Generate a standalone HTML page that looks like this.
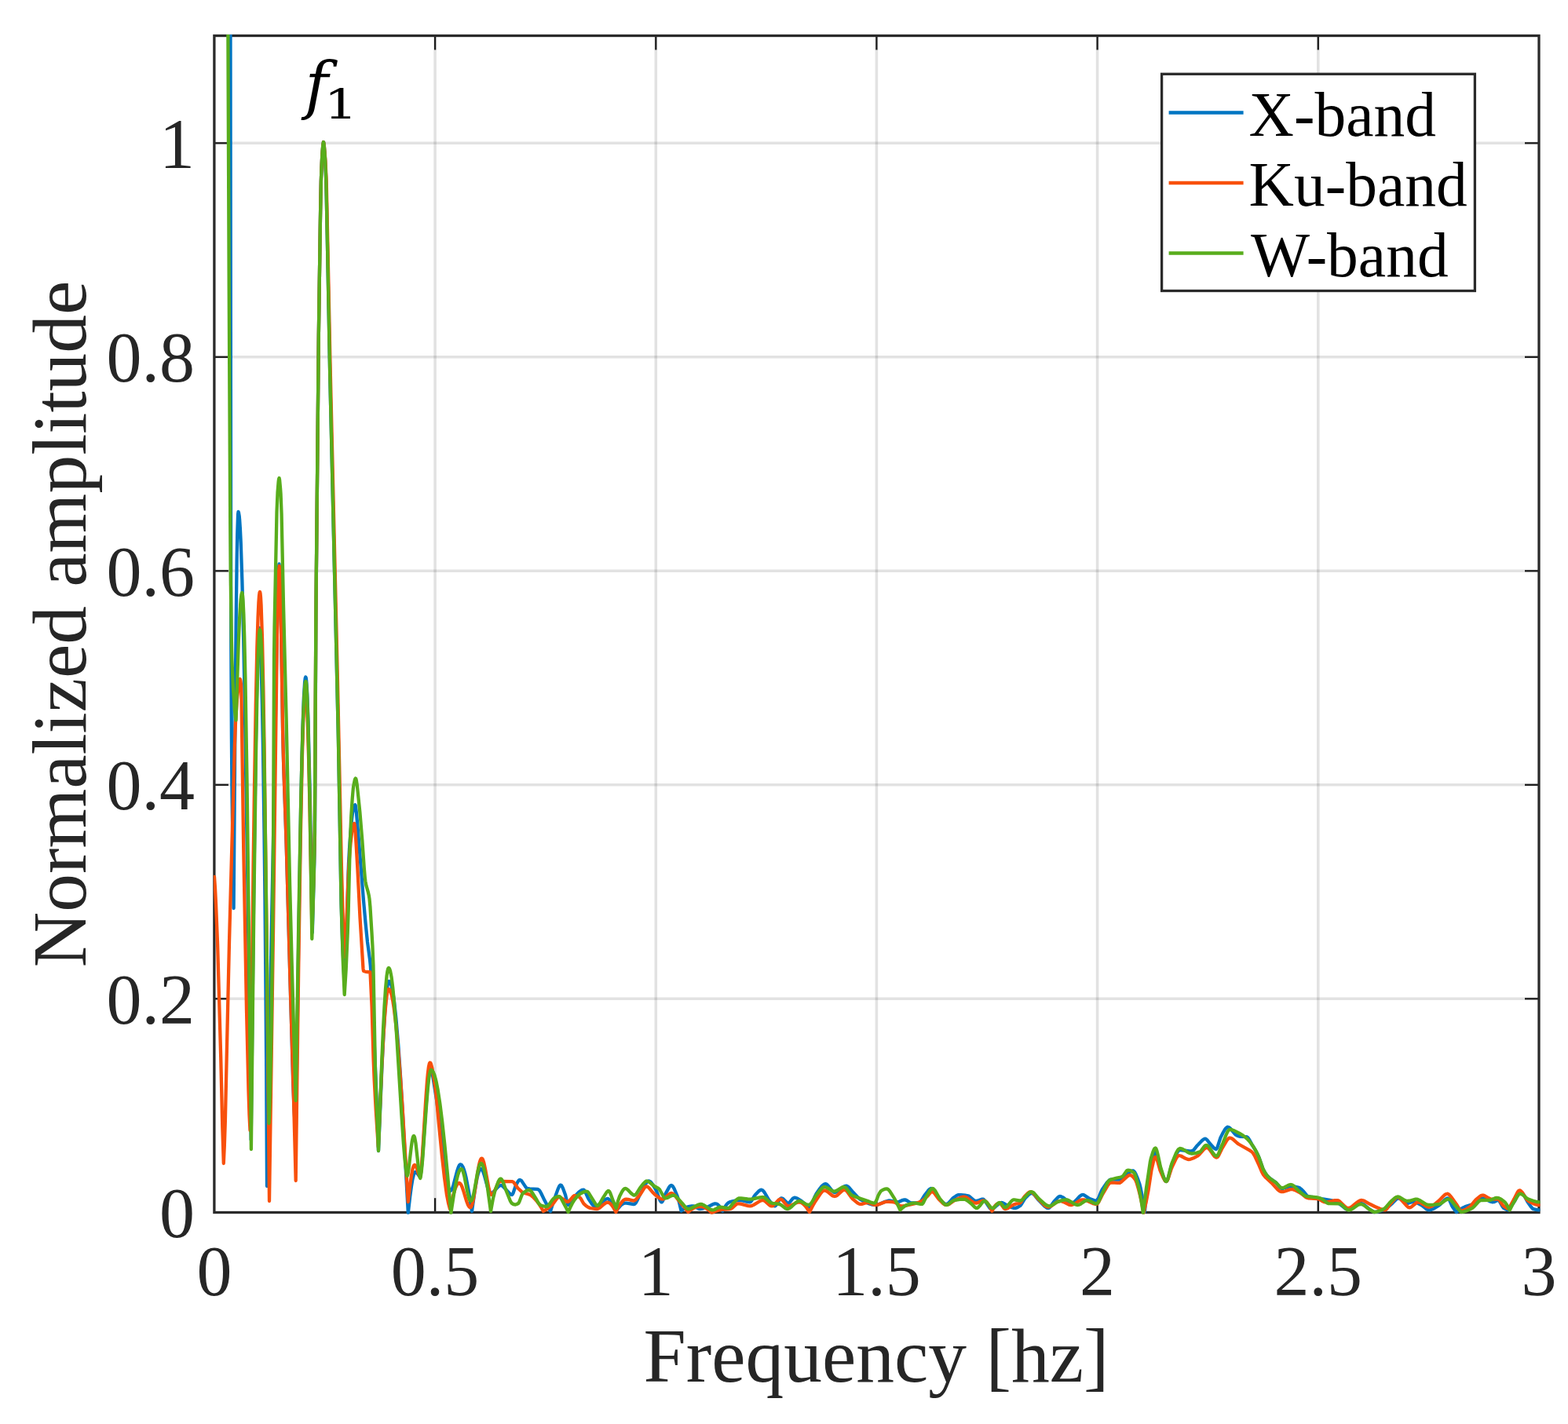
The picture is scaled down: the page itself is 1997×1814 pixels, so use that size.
<!DOCTYPE html>
<html lang="en"><head><meta charset="utf-8"><title>Normalized amplitude vs Frequency</title>
<style>
html,body{margin:0;padding:0;background:#fff;}
body{width:1997px;height:1814px;overflow:hidden;}
svg{display:block;}
text{font-family:"Liberation Serif","DejaVu Serif",serif;fill:#262626;}
.tk{font-size:90px;}
.lb{font-size:97.5px;}
.lg{font-size:79.5px;fill:#000;}
text.an{font-family:"DejaVu Serif","Liberation Serif",serif;fill:#000;}
</style></head><body>
<svg width="1997" height="1814" viewBox="0 0 1997 1814">
<rect x="0" y="0" width="1997" height="1814" fill="#fff"/>
<g stroke="#000" stroke-opacity="0.115" stroke-width="3.6" fill="none"><line x1="554.1" y1="45.5" x2="554.1" y2="1544.2"/><line x1="835.3" y1="45.5" x2="835.3" y2="1544.2"/><line x1="1116.4" y1="45.5" x2="1116.4" y2="1544.2"/><line x1="1397.6" y1="45.5" x2="1397.6" y2="1544.2"/><line x1="1678.8" y1="45.5" x2="1678.8" y2="1544.2"/><line x1="272.9" y1="1272.3" x2="1960.0" y2="1272.3"/><line x1="272.9" y1="999.8" x2="1960.0" y2="999.8"/><line x1="272.9" y1="727.3" x2="1960.0" y2="727.3"/><line x1="272.9" y1="454.8" x2="1960.0" y2="454.8"/><line x1="272.9" y1="182.3" x2="1960.0" y2="182.3"/></g>
<g stroke="#1c1c1c" stroke-width="2.3" fill="none"><line x1="554.1" y1="1544.2" x2="554.1" y2="1526.2"/><line x1="554.1" y1="45.5" x2="554.1" y2="63.5"/><line x1="835.3" y1="1544.2" x2="835.3" y2="1526.2"/><line x1="835.3" y1="45.5" x2="835.3" y2="63.5"/><line x1="1116.4" y1="1544.2" x2="1116.4" y2="1526.2"/><line x1="1116.4" y1="45.5" x2="1116.4" y2="63.5"/><line x1="1397.6" y1="1544.2" x2="1397.6" y2="1526.2"/><line x1="1397.6" y1="45.5" x2="1397.6" y2="63.5"/><line x1="1678.8" y1="1544.2" x2="1678.8" y2="1526.2"/><line x1="1678.8" y1="45.5" x2="1678.8" y2="63.5"/><line x1="272.9" y1="1272.3" x2="290.9" y2="1272.3"/><line x1="1960.0" y1="1272.3" x2="1942.0" y2="1272.3"/><line x1="272.9" y1="999.8" x2="290.9" y2="999.8"/><line x1="1960.0" y1="999.8" x2="1942.0" y2="999.8"/><line x1="272.9" y1="727.3" x2="290.9" y2="727.3"/><line x1="1960.0" y1="727.3" x2="1942.0" y2="727.3"/><line x1="272.9" y1="454.8" x2="290.9" y2="454.8"/><line x1="1960.0" y1="454.8" x2="1942.0" y2="454.8"/><line x1="272.9" y1="182.3" x2="290.9" y2="182.3"/><line x1="1960.0" y1="182.3" x2="1942.0" y2="182.3"/></g>
<rect x="272.9" y="45.5" width="1687.1" height="1499.0" fill="none" stroke="#2a2a2a" stroke-width="3.3"/>
<clipPath id="cp"><rect x="271.9" y="44.0" width="1689.6" height="1502.7"/></clipPath>
<g clip-path="url(#cp)" fill="none" stroke-width="4.3" stroke-linejoin="round" stroke-linecap="round">
<path stroke="#0075c2" d="M292.7,-300 293.24,-120.8 293.5,45 294.1,740 294.33,826.2 294.88,936.8 295.42,1001.8 296.51,1088.3 297.6,1157 299.71,888.3 300.61,793.9 301.62,714 302.24,680.3 303.08,655.2 303.5,652 303.9,652.6 304.63,656.8 305.13,662 305.93,674.1 306.74,691.2 308.36,739.2 309.98,804.8 311.6,886.3 315.18,1112.5 319.7,1452 323.25,1132.6 325.79,950.5 326.97,887.4 328.33,834.7 328.99,817.6 329.79,804.4 330.36,800.5 330.6,800 330.87,801.1 331.37,808.3 331.88,821.1 333.91,896.9 334.93,950.2 336.45,1055.9 337.46,1146 338.48,1261.3 339.2,1360 340,1511 343.02,1331.3 350.05,964.2 352.57,814.1 354.58,733.5 355.08,721.9 355.5,718.5 356.09,724.8 356.59,738 357.6,775 360.11,930.7 361.12,971.7 364.63,1074.5 373.18,1378.4 374.69,1415.3 376.7,1450 380.36,1191.3 383.2,1024.2 384.42,967.8 385.74,919.3 386.86,889.4 388.08,869.3 388.76,863.8 389.26,862.5 389.76,863.6 390.26,867.6 391.32,885 392.54,919.1 394.79,1015.9 397.8,1188 400.31,1098.2 401,1060 402.4,780 405.84,426.8 408.1,269 408.85,231.5 409.36,216.7 410.36,196.5 411.37,184.2 412,181 412.37,182.2 412.87,186.8 413.88,199.8 415.39,232.7 420.41,486.8 430.96,943.3 434.48,1147.1 435.99,1195.9 438.5,1250 440.5,1210.2 442.2,1160 443.5,1113.8 444,1100 445,1081.3 446.5,1060.7 448,1044.3 449,1035.8 449.5,1033 451,1027.3 452,1025.3 452.3,1025.2 452.5,1025.4 453,1027.3 454,1036 457,1071.5 463,1147.2 465.5,1175.3 468,1200 471,1222.2 471.8,1230 472.5,1239.7 476.5,1323.5 479.5,1398.1 482,1466 486.54,1357.2 488.55,1316.9 490.18,1290.1 491.82,1269.5 492.64,1261.9 493.59,1255.3 494.27,1252.2 495.09,1250.2 495.5,1250 496.11,1250.2 497.12,1251.6 498.33,1254.9 499.55,1260.1 500.76,1266.9 501.98,1275.5 504.41,1297.6 507.2,1330.4 509.72,1366.1 512.51,1411.1 519.8,1545 522.2,1524.3 523.81,1512.1 525.4,1502.5 527,1496 528.2,1493.5 528.82,1493 529.4,1493.1 530.83,1494 533.8,1498.1 535,1499 535.41,1498 535.84,1495.7 537.05,1485.4 538.27,1470.9 542.36,1411.5 544.41,1385.5 545.36,1376.2 546.45,1368.1 547.37,1363.9 547.87,1362.6 548.5,1362 548.87,1362.2 549.37,1363.1 550.88,1369 555.89,1400 558.4,1418.7 561.4,1443.5 565.91,1487.8 567.92,1500.8 568.92,1506.1 569.92,1510.3 571.43,1514.2 572.43,1516.1 572.93,1516.7 573.43,1517 573.93,1516.9 574.94,1516 576.34,1513.2 577.44,1509.9 581.95,1492.5 583.96,1486.4 584.96,1484.5 585.96,1483.4 586.97,1483.4 587.97,1484.1 589.47,1486.4 590.93,1490 592.48,1495.4 593.75,1500.8 596.97,1517.8 601,1543 604.7,1516.9 607.5,1501.1 608.8,1495.7 610.04,1492 611.27,1489.8 612,1489.1 612.5,1489 613.31,1489.3 614,1490.1 615.32,1492.7 616.94,1497.7 621.5,1514.4 623,1518.1 623.79,1519.3 624.5,1519.9 625,1520 626,1519.9 627.84,1518.9 629.5,1517.3 633.12,1513.1 634.75,1511.5 636.38,1510.4 638,1510 639,1510.2 640.5,1511.3 649.5,1520.7 651,1521.8 652,1522 652.5,1521.7 653.5,1520 656.5,1511.1 659,1506.3 660,1504.6 661,1503.4 661.5,1503.1 662.5,1503.1 663.5,1503.6 664.5,1504.6 669.5,1512.1 670.5,1513.2 671.5,1513.9 674.5,1514.3 684.5,1514.9 685.5,1515.2 686.5,1515.9 687.5,1517.1 689,1519.7 693.5,1529.1 701,1543 704.52,1531.8 710.55,1514.9 712.05,1511.5 713.06,1510.1 713.56,1509.7 714.06,1509.6 715.07,1510.2 716.07,1511.8 717.08,1514 720.09,1522.3 722.6,1532.9 723.11,1534.3 723.61,1535 724.61,1534.7 725.62,1533.8 727.13,1531.7 731.14,1525 736.17,1519.7 738.18,1517.9 740.19,1516.4 741.7,1515.8 743.2,1515.6 744.21,1516.3 745.21,1517.9 748.73,1525.7 749.73,1527.6 754.26,1534.2 756.27,1536.3 757.77,1537 758.78,1536.9 759.78,1536.6 761.79,1535.3 771.34,1527.9 772.84,1527.2 774.35,1527 775.36,1527.7 776.86,1529.6 781.89,1538.2 784.4,1543 787.41,1539 789.91,1536.2 792.42,1534 794.42,1532.9 795.93,1532.6 797.93,1532.7 806.95,1534 807.96,1533.9 808.96,1533.2 809.96,1532 810.96,1530.2 814.97,1521.8 817.48,1517.4 821.99,1508.7 823.49,1506.4 824.5,1505.3 825.5,1504.7 826.3,1504.5 827,1504.6 828,1505.1 829.51,1506.6 831.51,1509.3 835.02,1515 836.53,1518.2 840.53,1529.1 841.54,1530.7 842.54,1531.4 843.04,1531.2 844.04,1529.9 847.55,1520.9 852.06,1512.6 853.07,1511.2 854.07,1510.3 855.07,1510 856.07,1510.4 857.07,1511.5 858.58,1514.1 862.59,1523.5 865.09,1531.9 867.6,1542.6 870.1,1540.5 872.61,1538.9 875.11,1537.7 878.12,1536.9 881.13,1536.4 883.63,1536.5 885.13,1537.1 889.64,1539.6 891.14,1540 892.65,1539.9 895.65,1539.3 900.66,1537.8 908.18,1534 909.68,1533.5 911.4,1533.3 913.19,1533.8 915.19,1535.4 917.7,1538.6 920.2,1542.6 923.7,1536.8 925.7,1534 927.7,1532.1 929.2,1531.3 932.7,1530.3 936.2,1529.6 939.7,1529.1 942.7,1529 945.7,1529.4 952.71,1531.2 955,1531.4 955.71,1531.2 957.21,1529.7 960.71,1523.7 961.71,1522.3 966.71,1517.1 968.21,1516.1 969.7,1515.7 971.21,1516.3 972.71,1517.8 974.21,1520 979.21,1528.6 983.71,1534.4 984.71,1535.5 985.71,1536.2 986.71,1536.4 987.21,1536.3 988.21,1535.5 989.71,1533.5 992.71,1528.5 993.71,1527.3 994.71,1526.5 995.71,1526.4 996.71,1526.8 998.21,1528 1001.72,1531.5 1002.72,1532.2 1004,1532.6 1004.72,1532.4 1005.72,1531.7 1009.22,1527.3 1010.22,1526.3 1011.22,1525.8 1012.22,1525.7 1013.72,1526 1015.72,1526.8 1019.72,1529.3 1024.72,1533.3 1027.72,1537.3 1028.72,1538.4 1029.72,1539 1030.22,1539 1030.72,1538.8 1031.72,1537.8 1033.22,1535.3 1037.72,1524.4 1039.72,1520.4 1044.22,1514 1046.72,1510.9 1049.22,1508.8 1050.22,1508.4 1051.3,1508.2 1052.22,1508.4 1053.72,1509.4 1055.23,1511 1059.73,1516.9 1061.23,1518.3 1062.73,1519 1064.73,1518.7 1066.73,1517.7 1072.73,1512.9 1074.73,1511.5 1076.73,1510.8 1077.73,1510.7 1078.73,1510.9 1079.73,1511.4 1081.23,1512.7 1086.73,1519.1 1092.73,1525.4 1095.23,1527.5 1101.23,1530.8 1105.73,1532.9 1109.74,1534.3 1113.24,1534.9 1116.24,1534.9 1118.74,1534.4 1127.24,1530.7 1130.74,1529.7 1132.7,1529.5 1134.24,1529.6 1140.74,1531.2 1143.24,1531.4 1145.24,1530.8 1149.74,1528.8 1151.74,1528.3 1152.74,1528.4 1154.24,1528.9 1158.74,1531.8 1160.74,1532.5 1170.75,1532.5 1171.75,1531.8 1172.75,1530.6 1177.25,1523 1181.75,1517.2 1183.25,1515.5 1184.25,1514.6 1185.25,1514.1 1186,1514 1187.25,1514.4 1188.75,1515.9 1190.25,1518.1 1193.75,1524 1195.75,1526.8 1201.25,1532.1 1203.25,1533.5 1204.75,1534 1205.75,1534 1207.25,1533.2 1208.75,1531.8 1213.25,1526.6 1217.76,1523.4 1219.26,1522.5 1220.76,1522.1 1223.76,1522.1 1229.26,1522.7 1232.8,1523.3 1233.76,1523.6 1235.76,1525 1239.76,1528.6 1241.26,1529.6 1242.26,1529.9 1243.26,1530 1244.76,1529.7 1250.26,1527.7 1251.6,1527.6 1252.26,1527.7 1253.26,1528.3 1254.76,1530 1258.76,1536.3 1260.26,1538.4 1261.26,1539.4 1262.26,1539.9 1263.76,1539.9 1265.26,1539.2 1267.26,1537.7 1272.27,1533.2 1273.77,1532.4 1275.27,1532 1276.27,1532.1 1277.77,1532.7 1281.27,1534.7 1288.77,1538.2 1291.27,1538.9 1293.27,1538.9 1295.77,1538.1 1299.27,1536 1300.77,1534.2 1304.27,1528.3 1305.77,1526.2 1310.77,1521.3 1312.27,1520.4 1313.8,1520 1315.27,1520.4 1317.27,1522 1322.77,1528.8 1330.78,1536.9 1332.78,1538.4 1333.78,1538.8 1335,1539 1336.28,1538.6 1337.28,1537.7 1342.28,1530.8 1346.78,1525.9 1348.28,1524.6 1349.78,1524 1351.28,1524.2 1353.28,1525.1 1355.28,1526.4 1360.78,1530.9 1362.78,1532.1 1364.28,1532.5 1365.78,1532.5 1367.78,1531.5 1369.78,1529.7 1375.28,1523.8 1377.29,1522.4 1378.79,1522 1379.79,1522.1 1381.29,1522.7 1386.29,1526.1 1387.79,1526.9 1393.29,1529 1395.29,1529.4 1396.79,1529.4 1397.79,1528.5 1398.79,1526.8 1402.29,1518.3 1403.79,1515.3 1409.29,1507.2 1410.79,1505.4 1412.29,1503.9 1413.79,1502.9 1414.79,1502.6 1425.29,1502.6 1426.79,1502.3 1429.29,1500.7 1439.8,1492.4 1441.3,1491.6 1442.8,1491.3 1443.3,1491.4 1444.3,1492.2 1445.3,1493.4 1446.3,1495.2 1448.8,1501 1451.3,1508.1 1452.8,1514.3 1454.3,1521.9 1457.8,1544 1460.8,1515.4 1462.8,1501.1 1465.81,1485.1 1467.81,1476 1469.31,1471 1470.31,1468.9 1470.81,1468.3 1471.31,1468 1471.81,1468.1 1472.31,1468.6 1473.31,1470.8 1474.31,1474 1477.81,1488 1481.32,1498.1 1483.32,1503 1484.32,1504.5 1485.32,1505 1485.82,1504.8 1486.32,1504.2 1487.82,1500.5 1491.32,1487.1 1492.82,1482.4 1498.33,1469.9 1499.83,1467.3 1501.33,1465.6 1502.33,1465.1 1503.83,1465 1514.84,1466.3 1517.5,1466.4 1518.34,1466.2 1519.34,1465.7 1520.34,1464.8 1524.85,1459.2 1530.85,1453 1532.85,1451.4 1533.85,1450.9 1534.85,1450.7 1535.85,1450.9 1537.35,1452.1 1541.36,1457.3 1545.86,1462.2 1547.36,1463.4 1548.86,1463.8 1549.36,1463.5 1550.36,1461.8 1554.37,1449.4 1557.87,1442.5 1559.87,1439.1 1561.37,1437.1 1562.87,1435.9 1563.8,1435.7 1565.37,1436.2 1566.87,1437.4 1572.38,1444.2 1573.88,1445.6 1574.88,1446.2 1577.88,1447.4 1579.88,1447.9 1587.89,1448.2 1589.39,1449.3 1591.39,1452.2 1594.39,1457.8 1598.9,1465.2 1601.4,1469.9 1603.9,1475.6 1608.4,1488.7 1609.9,1491.7 1611.91,1495 1613.91,1497.8 1616.41,1500.3 1618.41,1501.9 1623.41,1505.2 1625.41,1506.8 1629.92,1512.3 1631.42,1513.6 1632.42,1514 1634.42,1513.8 1641.43,1511.7 1643.93,1511.4 1648.93,1511.7 1654.43,1512.8 1655.44,1513.4 1656.94,1514.6 1660.44,1518.1 1663.94,1522.4 1664.94,1523.4 1665.94,1524 1668.94,1524.7 1674.45,1525.4 1683.45,1527.1 1692.46,1528.5 1697.46,1529.7 1701.47,1531.3 1705.97,1533.5 1712.97,1539.1 1714.48,1540.1 1715.98,1540.8 1717.98,1541 1719.98,1540.5 1722.48,1539.1 1727.48,1535.3 1729.49,1534 1731.49,1533.2 1733.49,1533 1734.99,1533.4 1736.99,1534.5 1744,1540.3 1750,1544 1752.5,1543.9 1755.5,1543.3 1761.5,1541.5 1763.5,1540.8 1765,1540 1767.5,1538 1773.5,1532.6 1778,1527.9 1779.5,1526.8 1781,1526.4 1782,1526.6 1783.5,1527.3 1789,1531.8 1791,1532.8 1792,1533 1793.5,1532.8 1798,1531.3 1799.5,1531 1801.5,1531.1 1803.5,1531.7 1811,1535.6 1816,1539.6 1817.5,1540.6 1819,1541.3 1821,1541.3 1823,1540.9 1825.5,1539.8 1832.5,1535.7 1834.5,1534 1840.5,1528 1842.5,1526.7 1844,1526.4 1844.5,1526.6 1845,1527 1846,1528.6 1849,1535.7 1850,1537.6 1852.5,1541.1 1855,1544 1860,1540.4 1864,1538.1 1867,1536.8 1873.5,1534.9 1876.5,1533.8 1878.5,1532.4 1884.5,1527.5 1886,1526.7 1887.7,1526.4 1889.5,1526.6 1891,1527.1 1897.5,1530.4 1900.5,1531.3 1902.5,1531.2 1906.5,1529.3 1907.5,1529 1908.5,1529.1 1909,1529.4 1910,1530.6 1913.5,1536.9 1915,1538.8 1918.5,1540.7 1920,1541.2 1921.5,1541.4 1929.5,1529.2 1934,1520.2 1935.5,1518.4 1936.5,1518 1937,1518.1 1938,1518.6 1939.5,1520.3 1941,1522.7 1945.5,1531 1950,1537.4 1951.5,1539.2 1952.5,1539.9 1955,1540.7 1957.5,1541.2 1960,1541.4"/>
<path stroke="#f8500c" d="M273,1117 274.03,1131.7 275.05,1151.8 277.1,1202.9 281.21,1346.5 283.26,1435 284.8,1482 285.81,1459.7 286.81,1429.8 292,1200 298.88,948.3 300,920 301.9,891.1 303.91,872.6 304.92,866.4 305.6,865 305.93,865.4 306.43,867.6 307,872 307.43,886.1 310.2,1080 313.97,1285.5 316.49,1389.4 317.49,1419.9 318.5,1440 322.53,1107.1 324.15,993.2 325.76,897.5 327.37,824.1 328.58,785.5 329.39,768 330,759.4 330.6,754.9 331,754 331.5,755.6 332,760.6 332.6,771 334,813.1 335.4,879.2 336.5,946.6 339.4,1177.7 343,1530 348.03,1184.7 352.56,831.5 353.06,800.5 354.07,758.4 355.07,727.8 355.7,721 356.08,724.2 356.58,736.4 357.6,775 360.1,930.3 360.6,952.7 361.61,987.9 364.13,1058.1 365.13,1091.5 369.5,1250 374,1400 376.7,1504 380.22,1233.1 382.73,1069.6 384.9,963.6 386.13,921.4 387.25,895.5 388.26,882.8 388.76,880.4 389,880 389.42,880.9 389.83,883.7 390.66,894.7 391.77,920.4 393.15,967.9 394.29,1018 397.3,1180 398.3,1156.3 399.81,1107.8 400.82,1058.8 402.4,780 405.84,426.7 408.1,269 408.86,231.5 409.36,216.6 410.36,196.5 411.37,184.2 412,181 412.37,182 412.87,185.7 414.38,204.1 415.39,224.6 415.89,239.1 420.41,458.1 429.96,867.2 434.98,1107.2 436.99,1176.8 438,1201.1 439,1219 440.5,1195 444,1109.4 445,1092.5 446.5,1074.2 448.5,1057.2 449,1054.2 450,1050.9 450.5,1049.7 451,1049.1 451.2,1049 451.5,1049.6 452,1052.7 452.5,1058.1 453.5,1073.5 455.5,1108.8 458.5,1169 462.5,1234 463,1237 465.5,1237.8 471.5,1238.5 473.56,1281.5 475.62,1349.6 476.65,1374.9 478.71,1413.9 481.8,1461 486.36,1357.2 488.39,1319.1 489.91,1295.8 491.7,1275.3 492.52,1268.7 493.35,1263.9 493.96,1261.5 494.59,1260.2 494.97,1260 495.48,1260.1 496.63,1261.4 497.85,1264.4 499.07,1268.9 500.29,1275 501.56,1283.1 504.09,1303.7 506.79,1332.1 509.64,1368.3 512.48,1409.8 519.8,1531 522.26,1509.7 523.82,1498.3 525.32,1490.1 525.95,1487.6 526.77,1485.3 527.33,1484.4 528,1484 528.82,1484.4 529.34,1485.1 530.84,1488.4 533.35,1496.1 534.59,1498.7 535,1499 535.41,1497.8 535.82,1495.3 536.86,1485.3 537.87,1472.2 542.37,1399.1 544.01,1376.6 544.89,1367.2 545.9,1359.3 546.88,1354.8 547.29,1353.9 547.7,1353.6 548.41,1354.2 548.91,1355.2 550.42,1360.8 551.92,1369.3 554.43,1385.9 555.94,1399 558.95,1432.3 562.96,1473.1 565.97,1499.9 568.98,1522.1 570.99,1532.4 573,1540 576.66,1524.5 579.51,1514.8 581,1511.1 582.36,1508.7 583.58,1507.4 584.8,1507 585.61,1507.3 586.5,1508.1 587.5,1509.7 588.45,1511.8 590.07,1516.5 594.13,1530 596.16,1535.2 597.38,1537.2 598.19,1537.9 599,1538.2 599.5,1538 600,1537.5 600.61,1536.3 601.5,1533.7 603.03,1527 604.64,1517.6 608.26,1493.7 610,1484.2 611,1480.1 611.89,1477.5 612.69,1476.1 613.5,1475.6 614.31,1476.1 615,1477.2 616.32,1481.2 617.94,1488.6 622.5,1513.6 624,1519.1 624.79,1520.9 625.5,1521.8 626,1522 627,1521.7 628.5,1519.9 630,1517 633.74,1508.4 634.96,1506.4 636,1505.3 637,1505 652.5,1505.1 653.5,1505.6 654.5,1506.6 659.5,1513.5 664.5,1518.1 666,1519 667.5,1519.6 673,1521.2 675,1522 677,1523.3 679.5,1525.5 683,1529.3 686,1533.2 689,1537.8 692,1543 697.02,1539.9 703.05,1535 704.55,1533.3 709.07,1526.9 710.08,1525.9 711.08,1525.2 712.59,1525 714.1,1525.6 715.6,1526.5 720.12,1530 721.63,1530.7 723.13,1531 724.14,1530.6 725.14,1529.9 730.17,1523.9 731.17,1523.2 732,1523 734.68,1523.5 738.2,1525.1 739.71,1526.9 742.72,1532.3 743.72,1533.7 746.23,1535.9 748.24,1537.3 750.25,1538.4 752,1539 757.78,1539.9 760,1540 761.3,1539.8 763.81,1538.5 769.33,1533.9 771.34,1532.5 773.35,1531.8 774.36,1531.7 775.36,1532 777.37,1533.3 779.38,1535.6 781.89,1539.4 784.4,1544 786.9,1539 789.4,1534.7 791.9,1531.2 793.9,1529.1 795.9,1527.9 797.5,1527.6 799.9,1527.9 805.9,1529.4 807.4,1529.5 808.4,1529.1 809.4,1528.4 810.9,1526.9 815.4,1521.5 820.9,1512.9 821.9,1511.9 823.2,1511.4 824.9,1511.9 826.4,1513.1 831.9,1519.6 833.4,1521.1 839.4,1525.9 840.9,1526.8 842.4,1527.4 844.4,1527.5 845.9,1526.9 847.9,1525.3 851.4,1521.9 853.4,1520.4 855,1520 855.9,1520.1 856.9,1520.6 858.4,1521.8 859.9,1523.5 863.9,1528.7 871.4,1537.5 876.4,1544 879.9,1541.1 883.9,1538.7 887.9,1537.4 889.9,1537.1 892.4,1537 893.9,1537.2 895.9,1537.6 899.4,1539.2 902.9,1541.7 906.4,1545 911.9,1542.6 916.41,1541.3 919.41,1540.8 927.42,1540.3 930.42,1539.9 932.42,1538.8 937.42,1534.3 939.43,1533.4 940.93,1533.3 943.43,1533.7 952.94,1536.2 955.3,1536.4 956.94,1536.2 959.94,1534.9 967.45,1530.2 969.45,1529.3 970.95,1529 971.95,1529 973.45,1529.6 975.46,1531.1 979.96,1535.2 981.46,1536.1 982.96,1536.4 983.96,1536.1 985.46,1535.1 991.47,1528.7 992.97,1527.8 994,1527.6 994.97,1527.8 996.47,1528.9 1001.48,1535 1002.48,1535.8 1003.48,1536.3 1004.98,1536.3 1006.98,1535.8 1013.49,1532.6 1015.99,1531.7 1018.49,1531.4 1020.49,1532 1022.99,1533.7 1025.5,1536.2 1028,1539.5 1031,1544 1035,1536.2 1038.5,1530.2 1045.5,1519.8 1047,1518 1048.5,1516.8 1050,1516.4 1052,1516.9 1054,1518.1 1060,1523 1061.5,1523.7 1063,1524 1064.5,1523.7 1066,1522.8 1071.5,1517.8 1073,1516.7 1074.5,1515.9 1075.7,1515.7 1076.5,1515.8 1077.5,1516.4 1079,1517.9 1084,1525 1086,1527.3 1092,1532.3 1094,1533.5 1095.5,1533.9 1097.5,1533.9 1103,1532.3 1105.5,1532 1107.5,1532.5 1113,1534.7 1114.5,1535 1116,1534.9 1119,1534.3 1127,1531.2 1129,1530.9 1132,1530.8 1136.5,1531.1 1139.5,1531.6 1141.5,1532.7 1145,1535.4 1147,1536.3 1149.5,1536.3 1153,1535.9 1166.5,1532.8 1170.5,1531.5 1174,1530 1176.5,1528.3 1181,1524 1185.5,1518.7 1186.5,1518.1 1187,1518 1188.5,1518.6 1190,1520 1195.5,1527.5 1201,1532.9 1202.5,1534 1204,1534.8 1205,1535 1206,1534.9 1208,1534.3 1210,1533.1 1215,1529.5 1223,1525.6 1226,1524.7 1228.5,1524.6 1230,1525 1231.5,1525.7 1238.5,1531 1240.5,1532.1 1242,1532.5 1243.5,1532.6 1245,1532.2 1249.5,1530.3 1251.5,1529.6 1253,1529.5 1254.5,1529.9 1256.5,1531.4 1258.5,1533.9 1261,1537.9 1263.5,1542.7 1265.5,1538.7 1267.5,1535.8 1269.5,1533.8 1271.5,1532.8 1273,1532.6 1274,1533 1275,1534.1 1278.5,1539.1 1279.5,1539.9 1280,1540 1281.5,1539.8 1283.5,1539.1 1289.5,1535.4 1291.5,1534.4 1293.5,1533.7 1297.5,1533 1299,1532.5 1300.5,1531 1303.5,1526 1305,1524 1309.5,1519.5 1311,1518.6 1312.5,1518.2 1314,1518.6 1315.5,1519.6 1317.5,1521.7 1322,1527 1329,1534.1 1331.5,1536.3 1333,1537.1 1334,1537.5 1336,1537.5 1338,1536.8 1340,1535.6 1346,1531.3 1347.5,1530.6 1349,1530.1 1350.5,1530 1352.5,1530.4 1354.5,1531.2 1360.5,1534.2 1362.5,1534.9 1364,1535 1365.5,1534.8 1367,1534.3 1369,1533.2 1375,1529.4 1377,1528.6 1378.5,1528.3 1380.5,1528.4 1382.5,1528.9 1392,1533.1 1394.5,1533.8 1396.5,1534 1397.5,1533.6 1399,1531.7 1404.5,1520.8 1410.5,1510.6 1412,1508.5 1413,1507.4 1414,1506.6 1415.2,1506.3 1423.5,1506.9 1426,1506.9 1428,1505.6 1436.5,1498 1438,1497.2 1439,1497 1440,1497.2 1441,1497.6 1442,1498.3 1443.5,1499.8 1446,1503 1447.5,1506.4 1450,1515 1452,1522.8 1454,1531.9 1456.5,1545 1459.5,1532.1 1462.5,1516.7 1466.5,1490.4 1469.5,1477.6 1470.5,1474.9 1471,1474.1 1471.5,1473.8 1472,1474 1473,1475.7 1474,1478.5 1477.5,1490.8 1481.5,1500.2 1483.5,1503.7 1484.5,1504.7 1485.5,1505 1486.5,1504.1 1487.5,1502.1 1491.5,1489.8 1493,1486 1498,1475.6 1499.5,1473.3 1500.5,1472.4 1501.6,1472 1504,1472.5 1510,1475.8 1512.5,1476.8 1514.5,1477 1516.5,1476.6 1520,1475.3 1525.5,1472.3 1527.5,1470.6 1533.5,1463.8 1535.5,1462.4 1537,1462 1538.5,1462.5 1540,1463.8 1541.5,1465.7 1545,1470.9 1547,1473.3 1548.5,1474.3 1549.4,1474.5 1550,1474.3 1551,1473.5 1552,1472 1556,1463.7 1562.5,1452.7 1564.5,1450.3 1565.5,1449.7 1566.3,1449.5 1568,1449.9 1569.5,1450.7 1571.5,1452.3 1575.5,1456 1577.5,1457.5 1591.5,1465.4 1593.5,1466.7 1595,1468 1596.5,1469.9 1598.5,1473.5 1603.5,1484.3 1607,1492.7 1609,1496.4 1612,1500 1619.5,1506.9 1626.5,1514.6 1628.5,1516.5 1630,1517.5 1632,1518.2 1634,1518.2 1636.5,1517.5 1642.5,1515.4 1644.5,1515 1646,1515.1 1647.5,1515.4 1649.5,1516.2 1655.5,1519.3 1657.5,1520.6 1663,1525 1664.5,1525.8 1666,1526.3 1678.5,1527.1 1680.5,1527.9 1685,1530.6 1686.5,1531.2 1687.5,1531.4 1691.5,1531 1700,1529.2 1703.5,1529.1 1705,1529.6 1706.5,1530.7 1713,1537.1 1714.5,1538.2 1716,1538.9 1717,1539 1718,1538.9 1720,1538.2 1722.5,1536.5 1728,1531.9 1730,1530.4 1732.5,1529.2 1734.5,1529 1736,1529.3 1738,1530.1 1744.5,1533.8 1751,1537 1757.5,1539.8 1761,1541 1764,1541.4 1765,1541 1766.5,1539.6 1771,1533.2 1776.5,1527 1778.5,1525.4 1780,1525 1781.5,1525.4 1783,1526.6 1792,1536.5 1793.5,1537.8 1794.5,1538.2 1795.5,1538.3 1797,1537.7 1798.5,1536.7 1803.5,1532.5 1805,1531.7 1806.3,1531.4 1808,1531.7 1809.5,1532.3 1815.5,1536 1817.5,1537.1 1819.5,1537.6 1821,1537.5 1823,1536.8 1825.5,1535.3 1833,1529.2 1838,1524 1840,1522.1 1841.5,1521.2 1843.3,1520.7 1844.5,1521 1845.5,1521.7 1848,1524.4 1855,1534.2 1860,1542.6 1862.5,1542.2 1865,1541.3 1868,1539.8 1871.5,1537.6 1873.5,1535.8 1878,1530.1 1879.5,1528.4 1885,1523.8 1886.5,1523 1888,1522.6 1889.5,1522.7 1891,1523.3 1896.5,1526.5 1898.5,1527.4 1900,1527.6 1907.7,1527.6 1908.5,1527.8 1910,1529.3 1913,1534 1914.5,1536 1918.5,1538.8 1921.5,1540 1928.5,1527.1 1932.5,1519.1 1934,1517 1934.5,1516.7 1935.3,1516.4 1936,1516.5 1937,1517.1 1938.5,1518.7 1944,1527.3 1946,1529.6 1950,1531.9 1954,1533.7 1957,1534.7 1960,1535"/>
<path stroke="#58ad1c" d="M289.6,-300 290.4,45 291.68,364.3 293.23,667.6 293.8,740 294.79,812.9 295.4,840 296.87,875.5 298.94,904.7 299.98,914.5 300.5,917.5 303.78,817.7 305.02,789.3 306.12,770.5 306.66,763.8 307.48,757.2 308.16,755.1 308.3,755 308.67,755.9 309.13,759.5 309.54,765 310.37,782.7 311.22,809.7 312.44,863.7 314.51,991.6 316.84,1178.3 319.9,1464 323.42,1148.1 326.07,956.9 327.3,890.7 328.53,841.9 329.77,812.1 330.45,804 330.95,802 331.45,803.2 331.95,807.3 333.05,826.6 334.29,864.3 335.52,918 336.98,1000.1 338.48,1102.9 342.5,1431 343,1422.2 344.01,1389.7 345.52,1316.3 347.03,1194.2 348.03,1075.4 349.04,837 349.54,798.3 352.5,652 353.56,626.9 354.57,614.3 355.07,610.3 355.58,609 356.08,611.2 357.09,622.2 357.59,629.5 358.59,655.1 361,770 364.63,915.1 369.16,1128.5 371.67,1226.3 376.7,1402 380.3,1173.7 383.23,1018.4 384.7,958 385.74,923.7 387.1,891 388.26,874.2 388.76,870.2 389.1,868.6 389.5,868 389.91,869.1 390.32,872.5 391.27,888.6 392.37,921.4 394.43,1016.6 397.3,1196 398.31,1166.1 399.82,1110.4 400.83,1057.3 402.35,786.9 402.85,727.8 405.8,430 407.9,281.6 408.9,230 409.42,215.1 409.92,203.8 410.93,189 411.44,183.6 412,181 412.45,182.7 412.95,187.7 413.96,201.1 414.97,221.2 415.48,235.8 420.02,468.9 430.62,927 434.66,1154.2 436.68,1221.6 438.7,1267 440.71,1234.7 442.73,1188.7 443.73,1158.9 445.75,1074.4 447.26,1039.7 448.77,1016.6 449.78,1004.9 450.3,1001 451.79,993.8 452.29,992.3 452.8,991.6 453.3,992 453.8,993.8 454.81,1000.2 458.34,1034.3 461.36,1070.7 463.87,1106.9 464.88,1118.6 465.38,1122.6 466.39,1127.9 468.91,1136.7 469.92,1141.3 470.5,1145 471.43,1155 473.44,1187.1 474.45,1204.8 475.45,1229.9 477.97,1362.5 478.98,1392 482,1466 486.47,1346.2 488.03,1310.9 489.53,1282 491.04,1259.2 492.56,1243 493.38,1237.5 494.05,1234.5 494.59,1233.3 495,1233 495.56,1233.3 496.21,1234.4 497.07,1237 498.62,1245 500.22,1257.7 501.83,1274.4 505.1,1318.4 511.47,1421.2 513.88,1456.5 515.49,1476 516.65,1487.2 517.65,1494.3 518.16,1496.7 518.66,1498 519.12,1497.1 519.53,1495.4 520.36,1490.2 523.68,1461.7 524.68,1454.5 525.75,1449.2 526.19,1448 526.59,1447.3 527,1447 527.41,1447.3 527.7,1447.8 528.23,1449.4 529.46,1456.1 533.15,1489.4 534.23,1497.4 534.73,1499.9 535.2,1501 535.73,1499.5 536.82,1491.8 538.24,1476.5 542.91,1410.3 544.94,1385.4 546.16,1374.3 546.97,1368.8 548.19,1363.9 548.59,1363.2 549,1363 549.79,1363.2 550.3,1363.6 551.82,1365.8 553.31,1369.4 554.64,1374 555.85,1379.1 557.47,1387.4 560.29,1405.6 563.11,1428 566.34,1458 569.88,1494.8 574.4,1545 578,1521.7 580.8,1506.4 583.2,1496.5 584.4,1493 585.42,1490.9 586.42,1489.5 586.92,1489.2 587.6,1489 588.43,1489.5 589.65,1491.9 591.43,1498.6 594.99,1517.1 596.63,1524.4 597.45,1527.1 598.27,1528.9 599.09,1529.9 599.91,1529.9 600.72,1529 601.45,1527.4 602.96,1522.1 604.46,1514.7 607.97,1495 609.47,1488.2 610.97,1483.6 611.69,1482.5 612.5,1482 613.31,1482.3 613.98,1483 615.32,1485.8 616.53,1489.7 617.99,1495.9 620.99,1513.6 625,1543 628.01,1526.7 630.51,1516.5 634.52,1505.4 636.02,1502.7 637.02,1501.8 637.53,1501.6 638.03,1501.7 639.03,1502.6 640.53,1505.3 645.04,1517.7 650.05,1530.2 651.55,1532.6 653.56,1533.9 655.06,1534.4 656.56,1534.5 658.07,1534 660.07,1533 660.57,1532.4 661.57,1530.5 664.58,1522.4 665.58,1520.5 667.59,1518.7 670.09,1517.1 672.1,1516.3 674.1,1516 675.6,1516.7 677.61,1519 682.62,1526.9 685.62,1532.3 687.13,1534.3 688,1535 689.13,1535.5 693.14,1536.7 696,1537 697.15,1536.7 698.15,1535.9 699.15,1534.7 703.16,1528.9 705.16,1526.6 707.17,1525.4 709.67,1524.4 711.68,1524 712.68,1524.2 713.68,1525.1 714.68,1526.7 720.69,1537.9 723.7,1544 726.7,1537.2 729.2,1532.3 731.7,1528.4 734.7,1524.6 737.2,1522 739.2,1520.5 743.2,1518.5 746.2,1517.6 747.7,1517.8 748.7,1518.4 749.7,1519.6 758.7,1534.1 759.7,1535.3 760.2,1535.7 761,1536 762.2,1535.4 763.2,1534.3 767.2,1527.2 772.7,1518.6 774.2,1517.2 775.2,1517 776.2,1517.9 777.2,1519.8 780.7,1529.3 784.7,1539 787.2,1529.5 789.2,1523.7 792.2,1518 793.7,1515.8 794.71,1514.7 795.71,1514.1 796.21,1514 797.21,1514.1 798.21,1514.6 800.21,1516.2 803.71,1520 805.71,1521.7 807.21,1522.5 808,1522.6 808.71,1522.4 809.71,1521.7 810.71,1520.4 815.22,1513 819.72,1507.4 821.72,1505.4 822.72,1504.7 823.8,1504.5 825.22,1504.8 826.72,1505.6 833.23,1511 837.73,1513.3 839.23,1514.4 840.73,1516.4 844.73,1523.8 845.73,1525.2 846.73,1526.1 847.73,1526.4 849.74,1526 854.74,1523.4 856.24,1522.8 857.74,1522.6 859.24,1523 860.74,1524 862.74,1526 868.75,1532.6 873.25,1538.2 874.75,1539.4 876.25,1540 877.75,1539.9 879.75,1539.3 888.76,1534.9 890.76,1534.2 892.7,1534 894.26,1534.2 896.26,1535.1 903.27,1539.8 905.27,1540.9 906.77,1541.3 908.27,1541.4 909.77,1541 914.77,1538.4 917.27,1537.6 919.77,1537.8 925.28,1538.8 927.78,1539 928.78,1538.6 929.78,1537.8 933.28,1533.3 938.28,1528.1 939.79,1526.9 940.79,1526.5 943.79,1526.5 952.29,1527.5 956.29,1527.6 959.8,1527.1 967.8,1525.3 971.5,1525 972.8,1525.2 974.3,1526.1 979.81,1530.9 981.81,1532.2 984.31,1532.9 990.81,1533.6 993.32,1534.2 995.32,1535.3 1000.32,1539.2 1001.82,1539.9 1003.32,1540 1004.82,1539.5 1006.32,1538.6 1008.32,1537 1013.83,1531.8 1015.83,1530.5 1017.33,1530 1018.83,1530.1 1020.33,1530.5 1026.33,1533.9 1028.33,1534.7 1030,1535 1031.34,1534.5 1032.34,1533.7 1033.34,1532.5 1038.84,1523.5 1044.34,1516.4 1046.84,1513.6 1048.85,1512.2 1050.35,1512 1052.35,1512.5 1054.35,1513.6 1059.35,1516.7 1060.85,1517.3 1062.5,1517.6 1063.85,1517.4 1065.86,1516.6 1072.36,1512.6 1073.86,1512.1 1075,1512 1076.36,1512.4 1077.36,1513.2 1078.86,1515 1083.37,1521.2 1084.37,1522.2 1085.87,1523.1 1089.87,1524.8 1105.38,1530.1 1109.88,1531.9 1111.88,1532.4 1113.38,1532.6 1113.88,1532.5 1114.38,1532.2 1115.38,1530.7 1116.88,1527.6 1118.5,1523 1120.39,1519.4 1121.89,1517.3 1124.39,1515.7 1126.89,1514.7 1129.3,1514.3 1130.39,1514.6 1131.89,1515.8 1133.39,1517.6 1139.4,1527.2 1142.9,1533.8 1146.4,1541.4 1149.9,1538.2 1152.9,1536 1154.9,1535 1159.9,1533.4 1162.9,1532.7 1165.4,1532.6 1167.4,1532.8 1172.4,1533.9 1174.4,1533.9 1174.9,1533.6 1175.9,1532.2 1179.4,1525 1184.4,1516.7 1185.4,1515.4 1186.4,1514.5 1187.7,1514 1188.9,1514.4 1190.4,1515.9 1191.9,1518.2 1195.4,1524.5 1196.9,1526.9 1201.9,1532.9 1203.4,1534.3 1204.4,1534.8 1205.9,1534.9 1207.4,1534.4 1208.9,1533.4 1212.9,1530.1 1214.9,1529.1 1222.4,1527.9 1228.4,1527.6 1229.9,1528.1 1231.9,1529.4 1236.9,1533.3 1241.4,1537.8 1242.9,1538.8 1243.9,1539 1244.9,1538.8 1245.9,1538.1 1247.4,1536.6 1251.4,1531.5 1252.9,1530.3 1253.9,1530 1254.9,1530.2 1256.4,1531.3 1261.4,1537.5 1262.4,1538.4 1263.4,1538.9 1264.4,1539 1265.9,1538.2 1270.9,1533 1271.9,1532.3 1272.9,1532 1273.9,1532.3 1274.9,1533.1 1277.9,1536.7 1278.9,1537.6 1279.9,1538 1280.9,1537.8 1281.9,1537.3 1282.9,1536.4 1287.9,1530.4 1289.9,1528.7 1290.9,1528.3 1291.9,1528.3 1297.9,1529.4 1299.4,1529.5 1300.4,1529.2 1301.9,1528.4 1303.4,1527.1 1308.4,1521.6 1310.4,1519.7 1312.4,1518.5 1313.8,1518.2 1315.4,1518.7 1316.9,1519.8 1322.9,1526.8 1330.4,1533.6 1332.9,1535.3 1335.4,1536.3 1336.9,1536.4 1338.9,1535.8 1340.9,1534.7 1345.4,1531.8 1347.4,1530.9 1353.4,1528.9 1356.9,1528.3 1358.9,1528.4 1360.9,1529.1 1368.4,1533.7 1370.4,1534.6 1371.9,1535 1373.4,1534.9 1374.9,1534.5 1376.9,1533.3 1381.9,1529.9 1383.4,1529.3 1384.9,1529 1387.4,1529.5 1393.4,1532.6 1394.9,1533.1 1396.4,1533.3 1396.9,1533.2 1397.9,1532.5 1399.4,1530.3 1403.9,1520.2 1409.4,1508.6 1410.9,1505.8 1411.9,1504.5 1412.7,1503.8 1413.9,1503.1 1416.9,1502 1422.4,1500.5 1427.4,1499.5 1429.4,1498.8 1430.9,1497.3 1434.4,1492.1 1435.4,1491.1 1436.5,1490.7 1438.4,1490.9 1439.9,1491.4 1443.4,1493.4 1444.4,1494.2 1444.9,1495 1445.9,1497.2 1449,1507.6 1450.9,1515.5 1453.4,1528.8 1455.9,1545 1459.9,1513.8 1464.9,1479.9 1465.9,1475.3 1468.4,1467.4 1469.9,1463.9 1470.91,1462.7 1471.5,1462.5 1471.91,1462.7 1472.41,1463.3 1473.41,1465.9 1474.91,1471.9 1477.91,1486.1 1481.91,1499.1 1482.91,1501.8 1483.91,1503.8 1484.91,1504.9 1485.41,1505 1485.91,1504.7 1486.41,1503.9 1487.41,1501.4 1491.41,1485.3 1492.41,1482 1497.91,1468.8 1499.91,1465.2 1501.42,1463.6 1502.8,1463 1503.92,1463.1 1505.42,1463.5 1507.92,1464.8 1512.92,1468 1515.42,1469.1 1517.42,1469.5 1520.42,1469.3 1523.92,1468.6 1527.92,1467.4 1528.92,1466.7 1529.93,1465.6 1532.93,1461.4 1534.43,1459.7 1535.93,1458.8 1536.93,1458.9 1538.43,1459.8 1539.93,1461.4 1544.93,1468.9 1546.43,1470.8 1547.43,1471.8 1548.43,1472.4 1549.4,1472.6 1549.93,1472.4 1550.93,1471.4 1552.43,1468.4 1555.43,1460.7 1557.43,1456.3 1561.44,1446 1562.94,1442.6 1563.94,1440.8 1564.94,1439.5 1565.44,1439.1 1566.3,1438.8 1568.44,1439 1570.94,1439.9 1579.94,1444.5 1582.94,1446.4 1585.94,1448.6 1588.45,1450.8 1590.45,1452.9 1592.95,1456 1595.95,1460.2 1598.45,1464.3 1600.45,1467.9 1603.45,1474.4 1608.45,1488.8 1610.45,1492.7 1612.45,1495.9 1613.95,1497.8 1615.95,1499.9 1618.46,1501.9 1625,1506.4 1629.46,1511.3 1630.96,1512.6 1632.46,1513.3 1633.96,1513.2 1635.96,1512.4 1639.96,1510.3 1641.96,1509.4 1643.96,1509 1645.46,1509.3 1647.97,1510.9 1653.97,1516.9 1659.97,1521.9 1662.47,1523.5 1663.47,1523.9 1665.47,1524.2 1675.47,1525.1 1678.48,1525.7 1681.48,1526.5 1683.98,1527.6 1689.48,1531.9 1690.98,1532.8 1691.98,1533.2 1705.3,1533.3 1706.49,1533.5 1707.49,1534 1708.99,1535 1714.49,1540.1 1715.99,1541 1716.99,1541.4 1718.49,1541.5 1720.49,1540.9 1722.99,1539.4 1728.99,1535.2 1730.99,1534.3 1732.99,1534 1734.99,1534.4 1737,1535.4 1744.5,1541 1750,1544 1752.01,1543.9 1754.51,1543.3 1759.02,1541.7 1763.54,1539.3 1765.54,1537.4 1769.55,1532.5 1771.56,1530.4 1777.07,1525.6 1778.58,1524.8 1780,1524.5 1781.08,1524.6 1782.59,1525.1 1789.11,1529 1790.61,1529.6 1792.11,1530 1795.12,1529.7 1802.14,1527.7 1804.15,1527.6 1805.65,1527.9 1808.66,1529.2 1816.18,1534 1818.18,1534.7 1819.69,1535 1826.21,1534.7 1833.23,1533.9 1835.73,1532.7 1840.24,1529.5 1842.25,1528.3 1844.26,1527.7 1845.76,1527.7 1847.26,1528.5 1848.77,1529.9 1854.28,1536.8 1860.8,1544 1863.8,1543.6 1866.8,1542.7 1870.3,1541.3 1875.3,1538.8 1877.8,1536.7 1882.8,1531 1884.3,1529.8 1885.3,1529.2 1886.5,1529 1897.3,1528.9 1899.3,1528.4 1904.3,1526.2 1906.3,1525.8 1908.3,1526.1 1910.3,1526.9 1912.8,1528.4 1915.8,1530.7 1917.3,1532.3 1918.8,1534.4 1922.8,1541.4 1926.32,1534.5 1932.35,1524.2 1934.36,1521.5 1935.37,1520.8 1935.87,1520.7 1937.38,1521 1938.89,1521.7 1944.42,1526.3 1946.43,1527.5 1953.97,1530.2 1956.98,1531 1960,1531.4"/>
</g>
<text class="tk" x="272.9" y="1650.2" text-anchor="middle">0</text><text class="tk" x="554.1" y="1650.2" text-anchor="middle">0.5</text><text class="tk" x="835.3" y="1650.2" text-anchor="middle">1</text><text class="tk" x="1116.4" y="1650.2" text-anchor="middle">1.5</text><text class="tk" x="1397.6" y="1650.2" text-anchor="middle">2</text><text class="tk" x="1678.8" y="1650.2" text-anchor="middle">2.5</text><text class="tk" x="1960.0" y="1650.2" text-anchor="middle">3</text><text class="tk" x="248" y="1576.4" text-anchor="end">0</text><text class="tk" x="248" y="1303.9" text-anchor="end">0.2</text><text class="tk" x="248" y="1031.4" text-anchor="end">0.4</text><text class="tk" x="248" y="758.9" text-anchor="end">0.6</text><text class="tk" x="248" y="486.4" text-anchor="end">0.8</text><text class="tk" x="248" y="213.9" text-anchor="end">1</text>
<text class="lb" x="1116" y="1759.8" text-anchor="middle">Frequency [hz]</text>
<text class="lb" transform="translate(109,795) rotate(-90)" text-anchor="middle">Normalized amplitude</text>
<text class="an" x="388.6" y="135.6" font-size="80" font-style="italic">f</text><text class="an" transform="translate(412.4,151) scale(1.28,1)" font-size="53">1</text>
<rect x="1479.6" y="94.3" width="398.8" height="276.2" fill="#fff" stroke="#2a2a2a" stroke-width="3.3"/>
<line x1="1488.6" y1="143.4" x2="1583.6" y2="143.4" stroke="#0075c2" stroke-width="4.5"/><text class="lg" x="1590.5" y="172.9">X-band</text>
<line x1="1488.6" y1="232.9" x2="1583.6" y2="232.9" stroke="#f8500c" stroke-width="4.5"/><text class="lg" x="1590.5" y="262.4">Ku-band</text>
<line x1="1488.6" y1="322.4" x2="1583.6" y2="322.4" stroke="#58ad1c" stroke-width="4.5"/><text class="lg" x="1593" y="351.9">W-band</text>
</svg>
</body></html>
